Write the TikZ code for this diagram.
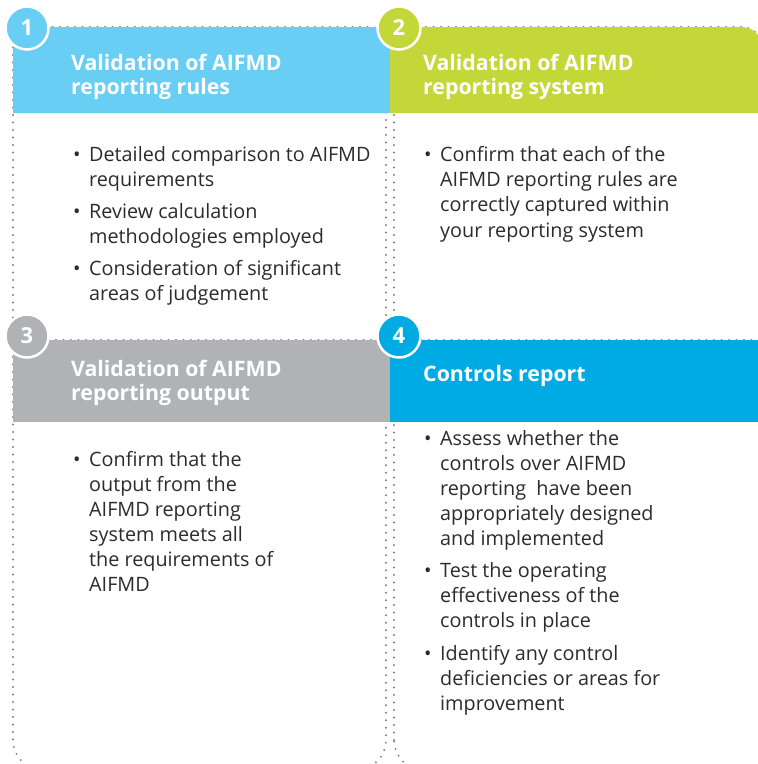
\documentclass[tikz,border=0pt]{standalone}
\usepackage{fontspec}
\setmainfont{Open Sans}
\definecolor{lblue}{HTML}{69CEF4}
\definecolor{lgreen}{HTML}{C3D838}
\definecolor{lgray}{HTML}{B0B2B5}
\definecolor{dblue}{HTML}{00AAE3}
\definecolor{dotgray}{HTML}{7F7F7F}
\definecolor{textgray}{HTML}{2B2B2B}
\begin{document}
\begin{tikzpicture}[x=1pt,y=-1pt,
  dots/.style={draw=dotgray, line width=2.1pt, line cap=round, dash pattern=on 0pt off 7.5pt},
  head/.style={anchor=base west, inner sep=0pt, font=\fontsize{21.3}{23}\selectfont\bfseries, text=white},
  body/.style={anchor=base west, inner sep=0pt, font=\fontsize{19.8}{25}\selectfont, text=textgray},
  num/.style={circle, minimum size=43pt, inner sep=0pt, draw=white, line width=2.5pt, font=\fontsize{22}{22}\selectfont\bfseries, text=white}]
\useasboundingbox (0,0) rectangle (758,764);
% dotted outlines
\draw[dots] (13,340) -- (13,27) -- (371,27) .. controls (379.3,27) and (386,33.7) .. (386,42) -- (386,340);
\draw[dots] (394,340) -- (394,27) -- (742,27) .. controls (753,27) and (762,36) .. (762,47) -- (762,340);
\draw[dots] (386,340) -- (13,340) -- (13,740) .. controls (13,756.6) and (26.4,770) .. (43,770) -- (356,770) .. controls (372.6,770) and (386,756.6) .. (386,740) -- cycle;
\draw[dots] (394,740) -- (394,340) -- (770,340) -- (770,770) -- (424,770) .. controls (407.4,770) and (394,756.6) .. (394,740);
% header fills
\fill[lblue] (13,113) -- (13,27) -- (375,27) .. controls (383.3,27) and (390,33.7) .. (390,42) -- (390,113) -- cycle;
\fill[lgreen] (390,113) -- (390,27) -- (742,27) .. controls (753,27) and (762,36) .. (762,47) -- (762,113) -- cycle;
\fill[lgray] (13,340) rectangle (390,422);
\fill[dblue] (390,340) rectangle (770,422);
% number circles
\node[num, fill=lblue] (n1) at (27,28) {1};
\node[num, fill=lgreen] (n2) at (399,28) {2};
\node[num, fill=lgray] (n3) at (27,336) {3};
\node[num, fill=dblue] (n4) at (399,336) {4};
% header texts
\node[head] (h1a) at (71,70) {Validation of AIFMD};
\node[head] (h1b) at (71,94) {reporting rules};
\node[head] (h2a) at (423,70) {Validation of AIFMD};
\node[head] (h2b) at (423,94) {reporting system};
\node[head] (h3a) at (71,376) {Validation of AIFMD};
\node[head] (h3b) at (71,400) {reporting output};
\node[head] (h4a) at (423,381) {Controls report};
% panel 1 body
\node[body] (b1a) at (73,161) {•};
\node[body] (t1a) at (89,161) {Detailed comparison to AIFMD};
\node[body] (t1b) at (89,186) {requirements};
\node[body] (b1b) at (73,218) {•};
\node[body] (t1c) at (89,218) {Review calculation};
\node[body] (t1d) at (89,243) {methodologies employed};
\node[body] (b1c) at (73,275) {•};
\node[body] (t1e) at (89,275) {Consideration of significant};
\node[body] (t1f) at (89,300) {areas of judgement};
% panel 2 body
\node[body] (b2a) at (424,161) {•};
\node[body] (t2a) at (440,161) {Confirm that each of the};
\node[body] (t2b) at (440,186) {AIFMD reporting rules are};
\node[body] (t2c) at (440,211) {correctly captured within};
\node[body] (t2d) at (440,237) {your reporting system};
% panel 3 body
\node[body] (b3a) at (73,466) {•};
\node[body] (t3a) at (89,466) {Confirm that the};
\node[body] (t3b) at (89,491) {output from the};
\node[body] (t3c) at (89,516) {AIFMD reporting};
\node[body] (t3d) at (89,541) {system meets all};
\node[body] (t3e) at (89,566) {the requirements of};
\node[body] (t3f) at (89,591) {AIFMD};
% panel 4 body
\node[body] (b4a) at (424,445) {•};
\node[body] (t4a) at (440,445) {Assess whether the};
\node[body] (t4b) at (440,470) {controls over AIFMD};
\node[body] (t4c) at (440,495) {reporting\ \ have been};
\node[body] (t4d) at (440,520) {appropriately designed};
\node[body] (t4e) at (440,545) {and implemented};
\node[body] (b4b) at (424,577) {•};
\node[body] (t4f) at (440,577) {Test the operating};
\node[body] (t4g) at (440,602) {effectiveness of the};
\node[body] (t4h) at (440,627) {controls in place};
\node[body] (b4c) at (424,660) {•};
\node[body] (t4i) at (440,660) {Identify any control};
\node[body] (t4j) at (440,685) {deficiencies or areas for};
\node[body] (t4k) at (440,710) {improvement};
\end{tikzpicture}
\end{document}
